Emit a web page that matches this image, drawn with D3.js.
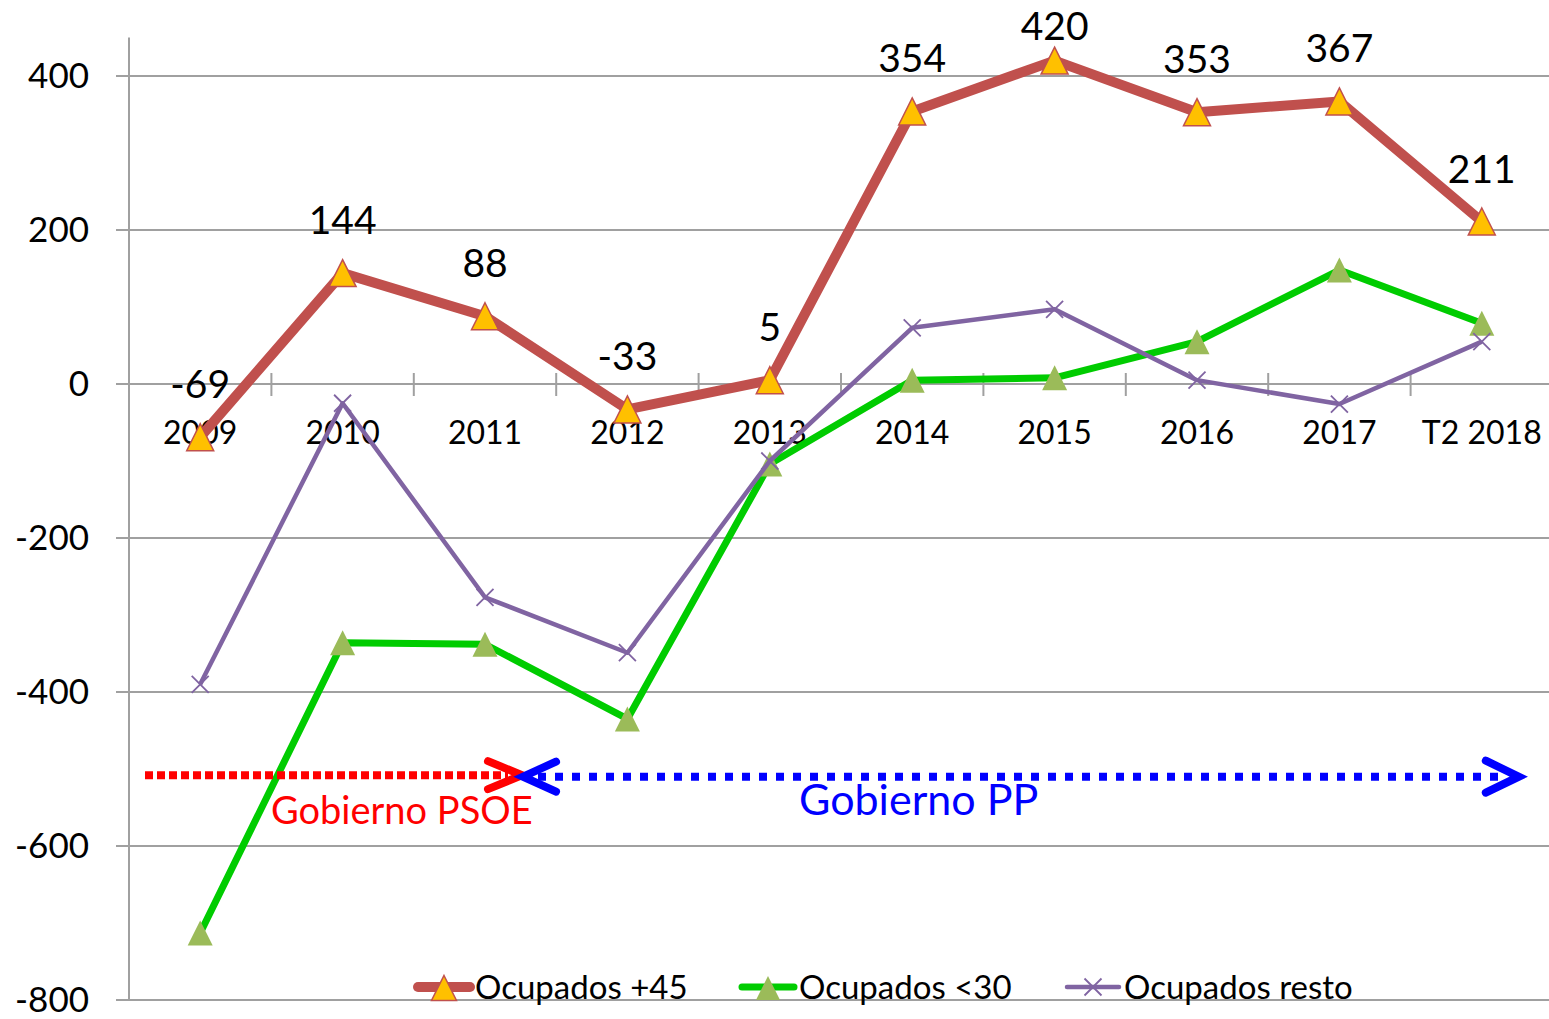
<!DOCTYPE html>
<html>
<head>
<meta charset="utf-8">
<script src="https://cdn.jsdelivr.net/npm/d3@7"></script>
<style>
  body { margin: 0; background: #fff; }
  text { font-family: Lato, "Open Sans", sans-serif; }
</style>
</head>
<body>
<div id="chart"></div>
<script>
// data (thousands of jobs, yearly change)
var years = ["2009", "2010", "2011", "2012", "2013", "2014", "2015", "2016", "2017", "T2 2018"];
var mayores45 = [-69, 144, 88, -33, 5, 354, 420, 353, 367, 211];
var menores30 = [-713, -336, -338, -435, -104, 5, 8, 55, 148, 79];
var resto = [-390, -25, -277, -349, -100, 73, 97, 5, -26, 55];
var yTicks = [-800, -600, -400, -200, 0, 200, 400];
var seriesNames = ["Ocupados +45", "Ocupados <30", "Ocupados resto"];

var width = 1549, height = 1019;

var svg = d3.select("#chart").append("svg")
  .attr("width", width)
  .attr("height", height);

var x = d3.scaleBand()
  .domain(years)
  .range([129, 1553]);

var y = d3.scaleLinear()
  .domain([-800, 450])
  .range([1000, 37.5]);

// grid lines
svg.append("g").selectAll("line")
  .data(yTicks)
  .enter().append("line")
    .attr("x1", 116).attr("x2", width)
    .attr("y1", d => y(d)).attr("y2", d => y(d))
    .attr("stroke", "#a0a0a0")
    .attr("stroke-width", 2);

// y axis
svg.append("line")
  .attr("x1", 129).attr("x2", 129)
  .attr("y1", y(450)).attr("y2", y(-800))
  .attr("stroke", "#a0a0a0").attr("stroke-width", 2);

svg.append("g").selectAll("text")
  .data(yTicks)
  .enter().append("text")
    .attr("x", 89)
    .attr("y", d => y(d))
    .attr("dy", "0.34em")
    .attr("text-anchor", "end")
    .attr("font-size", 35)
    .text(d => d);

// x axis on the zero line, tick marks between categories
svg.append("g").selectAll("line")
  .data(years.slice(1))
  .enter().append("line")
    .attr("x1", d => x(d)).attr("x2", d => x(d))
    .attr("y1", y(0) - 11).attr("y2", y(0) + 12)
    .attr("stroke", "#a0a0a0").attr("stroke-width", 2);

svg.append("g").selectAll("text")
  .data(years)
  .enter().append("text")
    .attr("x", d => x(d) + x.bandwidth() / 2)
    .attr("y", y(0) + 60)
    .attr("text-anchor", "middle")
    .attr("font-size", 32)
    .text(d => d);

var cx = (d, i) => x(years[i]) + x.bandwidth() / 2;
var line = d3.line().x(cx).y(d => y(d));

// Excel-like triangle marker, as wide as it is tall, centred on its box
function triangle(w) {
  var p = d3.path();
  p.moveTo(0, -w / 2);
  p.lineTo(w / 2, w / 2);
  p.lineTo(-w / 2, w / 2);
  p.closePath();
  return p.toString();
}
function cross(w) {
  var h = w / 2;
  return `M${-h},${-h}L${h},${h}M${-h},${h}L${h},${-h}`;
}

// Ocupados +45
svg.append("path")
  .datum(mayores45)
  .attr("d", line)
  .attr("fill", "none")
  .attr("stroke", "#c0504d")
  .attr("stroke-width", 10)
  .attr("stroke-linejoin", "round");

svg.append("g").selectAll("path")
  .data(mayores45)
  .enter().append("path")
    .attr("d", triangle(27))
    .attr("transform", (d, i) => `translate(${cx(d, i)},${y(d)})`)
    .attr("fill", "#ffc000")
    .attr("stroke", "#c0504d")
    .attr("stroke-width", 1.5);

// Ocupados <30
svg.append("path")
  .datum(menores30)
  .attr("d", line)
  .attr("fill", "none")
  .attr("stroke", "#00cc00")
  .attr("stroke-width", 7)
  .attr("stroke-linejoin", "round");

svg.append("g").selectAll("path")
  .data(menores30)
  .enter().append("path")
    .attr("d", triangle(25))
    .attr("transform", (d, i) => `translate(${cx(d, i)},${y(d)})`)
    .attr("fill", "#9bbb59");

// Ocupados resto
svg.append("path")
  .datum(resto)
  .attr("d", line)
  .attr("fill", "none")
  .attr("stroke", "#8064a2")
  .attr("stroke-width", 4.5)
  .attr("stroke-linejoin", "round");

svg.append("g").selectAll("path")
  .data(resto)
  .enter().append("path")
    .attr("d", cross(17))
    .attr("transform", (d, i) => `translate(${cx(d, i)},${y(d)})`)
    .attr("fill", "none")
    .attr("stroke", "#8064a2")
    .attr("stroke-width", 1.8);

// value labels for +45 (kept inside the chart at the top like Excel does)
svg.append("g").selectAll("text")
  .data(mayores45)
  .enter().append("text")
    .attr("x", cx)
    .attr("y", d => Math.max(y(d) - 39, 40))
    .attr("text-anchor", "middle")
    .attr("font-size", 39)
    .text(d => d);

// government annotations
var redY = y(-508), blueY = y(-510);
var redStart = x("2009") + 16;
var split = x("2011") + x.bandwidth() / 2 + 37;
var blueEnd = x("T2 2018") + x.bandwidth() / 2 + 37;

svg.append("line")
  .attr("x1", redStart).attr("x2", split - 14)
  .attr("y1", redY).attr("y2", redY)
  .attr("stroke", "red").attr("stroke-width", 8)
  .attr("stroke-dasharray", "8 4");
svg.append("path")
  .attr("d", `M${split - 34},${redY - 14}L${split},${redY}L${split - 34},${redY + 14}`)
  .attr("fill", "none").attr("stroke", "red").attr("stroke-width", 8)
  .attr("stroke-linecap", "round");

svg.append("line")
  .attr("x1", split + 16).attr("x2", blueEnd - 14)
  .attr("y1", blueY).attr("y2", blueY)
  .attr("stroke", "blue").attr("stroke-width", 8)
  .attr("stroke-dasharray", "8 9");
svg.append("path")
  .attr("d", `M${split + 34},${blueY - 15}L${split + 1},${blueY}L${split + 34},${blueY + 15}`)
  .attr("fill", "none").attr("stroke", "blue").attr("stroke-width", 8)
  .attr("stroke-linecap", "round");
svg.append("path")
  .attr("d", `M${blueEnd - 33},${blueY - 16}L${blueEnd},${blueY}L${blueEnd - 33},${blueY + 16}`)
  .attr("fill", "none").attr("stroke", "blue").attr("stroke-width", 8)
  .attr("stroke-linecap", "round");

svg.append("text")
  .attr("x", 271).attr("y", 824)
  .attr("fill", "red").attr("font-size", 38)
  .text("Gobierno PSOE");
svg.append("text")
  .attr("x", 799).attr("y", 815)
  .attr("fill", "blue").attr("font-size", 43)
  .text("Gobierno PP");

// legend
var legendX = [416, 740, 1065];
var legendY = 987;
var legend = svg.append("g").selectAll("g")
  .data(seriesNames)
  .enter().append("g")
    .attr("transform", (d, i) => `translate(${legendX[i]},${legendY})`);

legend.append("line")
  .attr("x1", 2).attr("x2", 54)
  .attr("stroke", (d, i) => ["#c0504d", "#00cc00", "#8064a2"][i])
  .attr("stroke-width", (d, i) => [10, 7, 4.5][i])
  .attr("stroke-linecap", "round");

legend.filter((d, i) => i < 2).append("path")
  .attr("d", (d, i) => triangle([25, 24][i]))
  .attr("transform", "translate(28,1)")
  .attr("fill", (d, i) => ["#ffc000", "#9bbb59"][i])
  .attr("stroke", (d, i) => ["#c0504d", "none"][i])
  .attr("stroke-width", 1.5);

legend.filter((d, i) => i === 2).append("path")
  .attr("d", cross(17))
  .attr("transform", "translate(28,0)")
  .attr("fill", "none").attr("stroke", "#8064a2").attr("stroke-width", 1.8);

legend.append("text")
  .attr("x", 59)
  .attr("dy", "0.36em")
  .attr("font-size", 33)
  .text(d => d);
</script>
</body>
</html>
